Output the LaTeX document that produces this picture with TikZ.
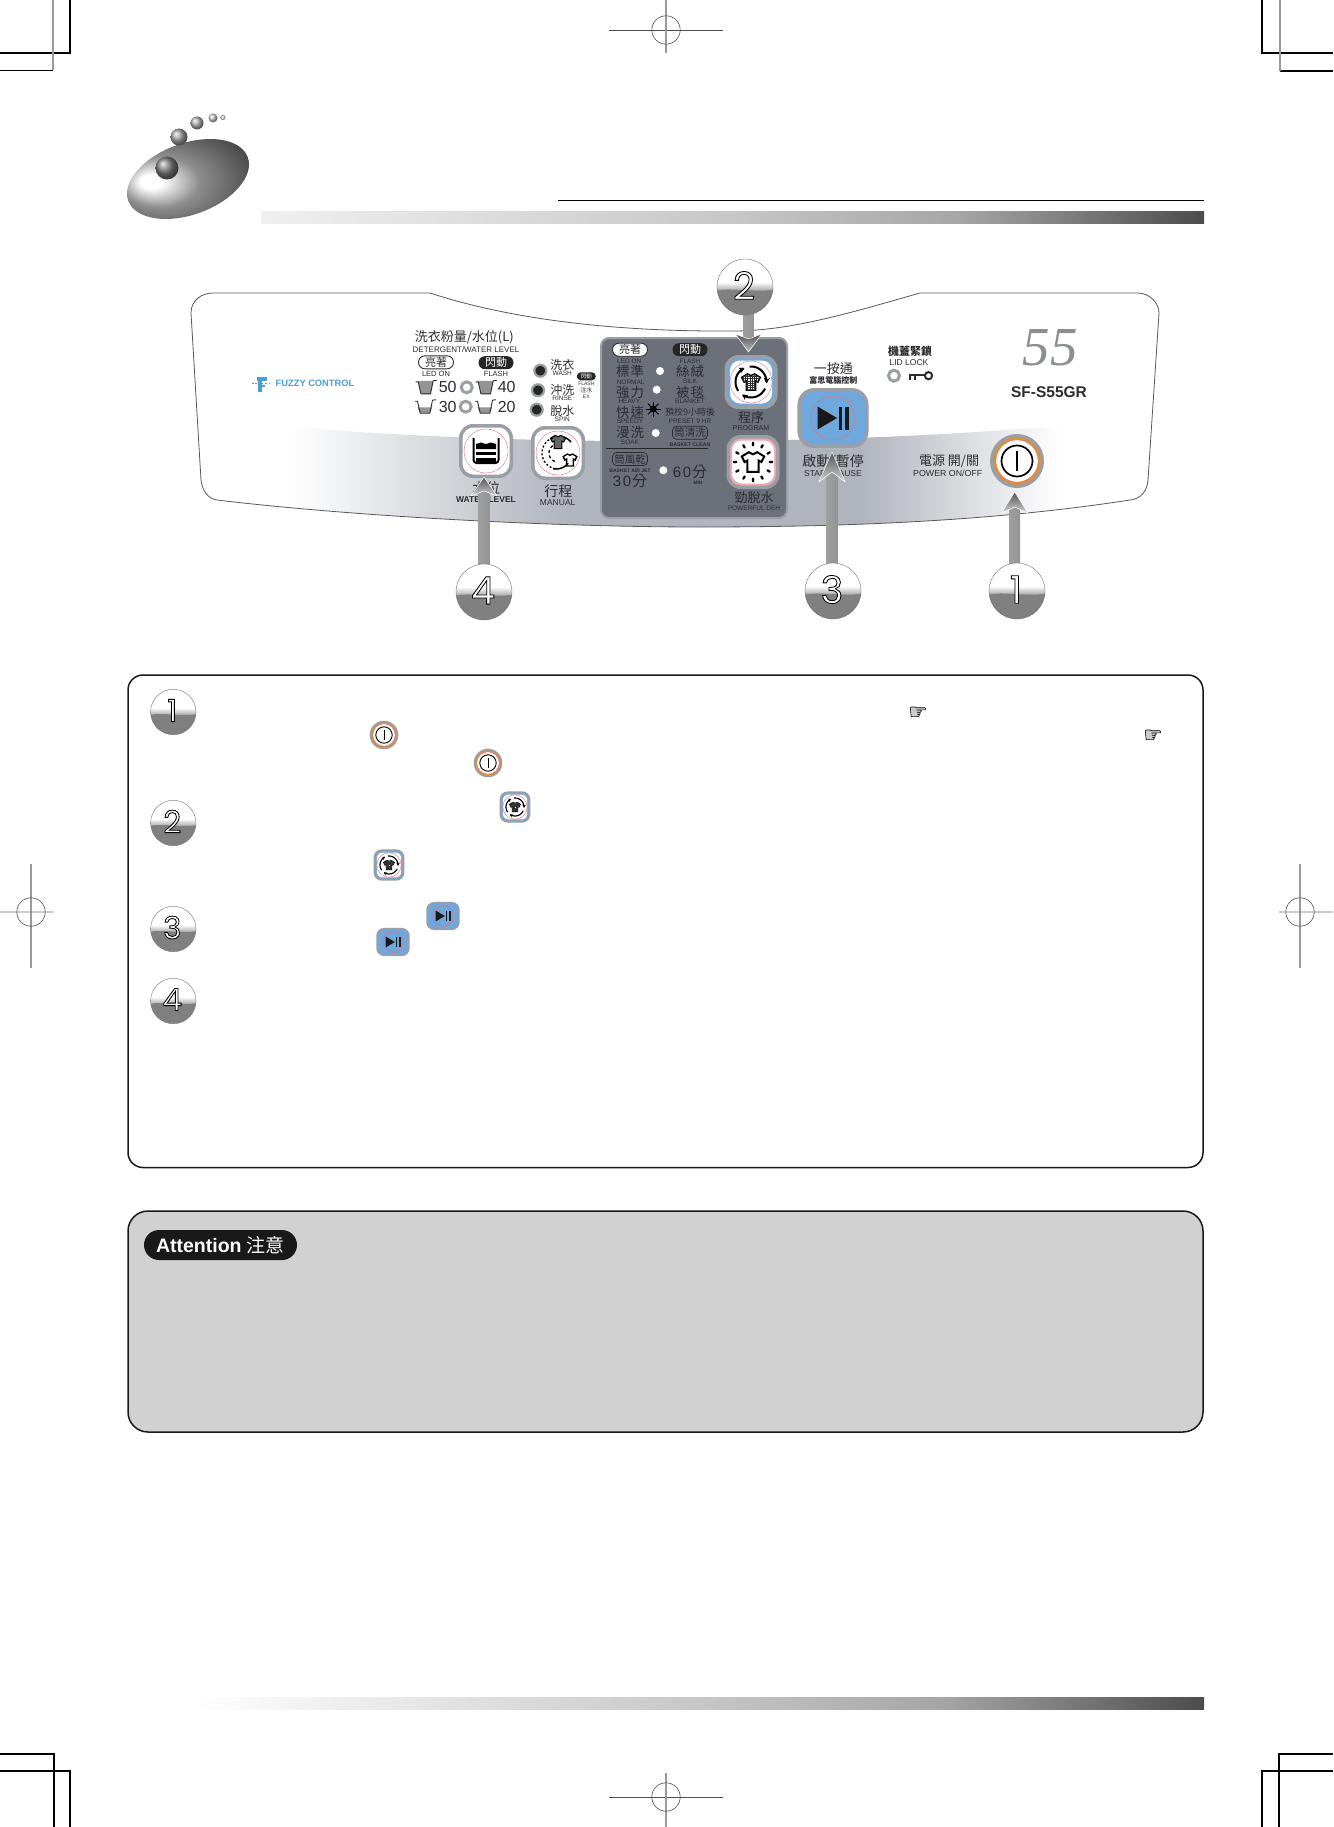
\documentclass[tikz,border=0pt]{standalone}
\usepackage{fontspec}
\usetikzlibrary{arrows.meta,calc,shadings}
\newfontfamily\cjkf{Noto Sans CJK TC}
\newfontfamily\lsf{Liberation Sans}
\newfontfamily\serf{Liberation Serif}
\newfontfamily\popf{Poppins}
\newfontfamily\djf{DejaVu Sans}
\definecolor{bandg}{HTML}{B0B4BC}
\definecolor{dispg}{HTML}{6C7079}
\definecolor{rimg}{HTML}{9A9EA6}
\definecolor{txtc}{HTML}{2C2C30}
\definecolor{btnblue}{HTML}{6FA8DC}
\definecolor{ringred}{HTML}{E8707A}
\definecolor{orng}{HTML}{D8923C}
\definecolor{fuzzy}{HTML}{4A9FD8}
\definecolor{pinkb}{HTML}{F0A8B0}
\pgfdeclarehorizontalshading{bandsh}{100bp}{color(0bp)=(white);color(25bp)=(white);color(43bp)=(bandg);color(62bp)=(bandg);color(75bp)=(white);color(100bp)=(white)}
\pgfdeclarehorizontalshading{barsh}{100bp}{color(0bp)=(black!6);color(25bp)=(black!6);color(50bp)=(black!22);color(62bp)=(black!35);color(75bp)=(black!70);color(100bp)=(black!70)}
\pgfdeclarehorizontalshading{barshb}{100bp}{color(0bp)=(white);color(25bp)=(white);color(50bp)=(black!22);color(62bp)=(black!35);color(75bp)=(black!70);color(100bp)=(black!70)}
\pgfdeclareradialshading{logosh}{\pgfpoint{-15bp}{0bp}}{color(0bp)=(white);color(4bp)=(white);color(15bp)=(black!45);color(28bp)=(black!65);color(42bp)=(black!85);color(52bp)=(black)}
\newcommand\panelpath{(191,313) .. controls (191,300) and (202,293) .. (213,293) -- (430,293) .. controls (500,316) and (600,332) .. (733,331) .. controls (790,331) and (850,313) .. (920,293) -- (1137,293) .. controls (1150,293) and (1159,303) .. (1159,313) -- (1148,480) .. controls (1147,492) and (1140,499) .. (1130,500) .. controls (1000,520) and (860,527) .. (700,527) .. controls (550,527) and (350,516) .. (217,500) .. controls (208,499) and (202,490) .. (201,480) -- cycle}
\newcommand\shirtpath{(-3,-7) -- (0,-5.5) -- (3,-7) -- (8,-4) -- (6,0) -- (4,-1) -- (4,7) -- (-4,7) -- (-4,-1) -- (-6,0) -- (-8,-4) -- cycle}
\newcommand\olnum[1]{\special{pdf:code 2 Tr 0.85 w 0 0 0 RG}#1\special{pdf:code 0 Tr}}
\newcommand\olhand[1]{\special{pdf:code 2 Tr 0.6 w 0 0 0 RG}#1\special{pdf:code 0 Tr}}
\newcommand\mkball[5]{%
  \pgfmathsetmacro\ballfs{#4*1.36}
  \node[circle,minimum size=#4*2pt,inner sep=0,fill=white] (#1) at (#2,#3) {};
  \begin{scope}
    \clip (#2,#3) circle (#4);
    \shade[top color=white,bottom color=black!35] (#2-#4,#3-#4*.18) rectangle (#2+#4,#3+#4*.14);
    \fill[black!50] (#2-#4,#3+#4*.12) .. controls (#2-#4*.5,#3+#4*.02) and (#2+#4*.4,#3+#4*.2) .. (#2+#4,#3+#4*.1) -- (#2+#4,#3+#4) -- (#2-#4,#3+#4) -- cycle;
  \end{scope}
  \draw[black!55,line width=.4pt] (#2,#3) circle (#4);
  \node[inner sep=0,text=white,font=\popf\fontsize{\ballfs}{\ballfs}\selectfont] (#1d) at (#2-1,#3-1.5) {\olnum{#5}};
}
\newcommand\mkpower[4]{%
  \begin{scope}[shift={(#2,#3)},scale=#4]
    \coordinate (#1) at (0,0);
    \fill[rimg] (0,0) circle (27);
    \fill[orng] (0,0) circle (23.8);
    \fill[white] (0,0) circle (21);
    \draw[ringred,line width=.5pt] (0,0) circle (21.2);
    \draw[black,line width={1.7pt*#4}] (0,0) circle (15.5);
    \draw[black,line width={1.7pt*#4}] (0,-10) -- (0,10);
  \end{scope}}
\newcommand\mkshirtbtn[4]{%
  \begin{scope}[shift={(#2,#3)},scale=#4]
    \coordinate (#1) at (0,0);
    \pgfmathsetmacro\alen{5.5*#4}
    \pgfmathsetmacro\awid{6*#4}
    \fill[rimg,rounded corners={14pt*#4}] (-26.5,-27) rectangle (26.5,27);
    \fill[btnblue,rounded corners={11pt*#4}] (-23,-23.5) rectangle (23,23.5);
    \fill[white,rounded corners={10pt*#4}] (-21,-21.5) rectangle (21,21.5);
    \draw[ringred,line width=.4pt] (0,0) circle (21);
    \foreach \ang in {25,145,265}{
      \draw[black,line width={2pt*#4},-{Stealth[length=\alen pt,width=\awid pt]},domain=\ang:\ang+100,samples=16,smooth,variable=\t] plot ({15.5*cos(\t)},{15.5*sin(\t)});
    }
    \begin{scope}[scale=1.15]
      \filldraw[fill=white,draw=black,line width={1.6pt*#4}] \shirtpath;
      \clip \shirtpath;
      \foreach \u in {-7,-5,...,7}{\draw[black!80,line width={.55pt*#4}] (\u,-8) -- (\u,8); \draw[black!80,line width={.55pt*#4}] (-8,\u) -- (8,\u);}
    \end{scope}
  \end{scope}}
\newcommand\mkstart[4]{%
  \begin{scope}[shift={(#2,#3)},scale=#4]
    \coordinate (#1) at (0,0);
    \filldraw[fill=btnblue,draw=rimg,line width={3.5pt*#4},rounded corners={15pt*#4}] (-33.8,-28.2) rectangle (33.8,28.2);
    \draw[ringred,line width=.5pt] (0,0) circle (22);
    \fill[black!90] (-15.5,-11.5) -- (4,0) -- (-15.5,11.5) -- cycle;
    \fill[black!90] (5.5,-11.5) rectangle (9,11.5);
    \fill[black!90] (12,-11.5) rectangle (16,11.5);
  \end{scope}}
\newcommand\mkbasin[3]{%
  \begin{scope}[shift={(#1,#2)}]
    \fill[black!42] (-7.6,{6.5-13*#3}) -- (7.3,{6.5-13*#3}) -- (4.8,6.5) -- (-4.8,6.5) -- cycle;
    \draw[txtc,line width=.9pt,line join=round] (-10,-5.5) -- (-7.5,-5.5) -- (-4.8,6.5) -- (4.8,6.5) -- (7.5,-6.5) -- (11,-7);
  \end{scope}}
\newcommand\mkupar[4]{% tip, ball, height, notch
  \shade[left color=black!38,middle color=black!70,right color=black!42] ($(#1)+(-5.4,#4-.5)$) rectangle ($(#1 |- #2.center)+(5.4,0)$);
  \shade[top color=black!68,bottom color=black!18,draw=white,line width=.5pt,line join=round] (#1) -- ($(#1)+(13.2,#3)$) -- ($(#1)+(0,#4)$) -- ($(#1)+(-13.2,#3)$) -- cycle;
}
\newcommand\mkcross[5]{%
  \draw[#5,line width=1.1pt] (#1,#3) -- (#1,#4);
  \draw[black!70,line width=.6pt] (#1,#2) circle (14.2);
}
\tikzset{
  cj/.style={inner sep=0,text=txtc,font=\cjkf\fontsize{#1}{#1}\selectfont},
  la/.style={inner sep=0,text=txtc,font=\lsf\fontsize{#1}{#1}\selectfont},
  crop/.style={black,line width=1.1pt},
  cropg/.style={black!40,line width=1.1pt},
  pillo/.style={rounded corners=6.4pt,draw=txtc,fill=white,line width=.9pt,minimum width=35pt,minimum height=13pt,inner sep=0,text=txtc,font=\cjkf\fontsize{11}{11}\selectfont},
  pillf/.style={rounded corners=6.4pt,fill=black!85,minimum width=35pt,minimum height=13pt,inner sep=0,text=white,font=\cjkf\fontsize{11}{11}\selectfont},
  boxo/.style={rounded corners=4pt,draw=txtc,line width=.7pt,minimum width=35pt,minimum height=13pt,inner sep=0,text=txtc,font=\cjkf\fontsize{10.5}{10.5}\selectfont},
  ledw/.style={circle,fill=white,minimum size=8pt,inner sep=0},
  ringg/.style={circle,draw=rimg,line width=3pt,minimum size=11pt,inner sep=0},
}
\begin{document}
\begin{tikzpicture}[x=1pt,y=-1pt,line cap=butt]
\useasboundingbox (0,0) rectangle (1333,1827);
\fill[white] (0,0) rectangle (1333,1827);
% crop marks
\draw[crop] (0,53) -- (70,53) -- (70,0);
\draw[crop] (0,70.5) -- (53,70.5);
\draw[cropg] (53,0) -- (53,70.5);
\draw[crop] (1333,53) -- (1262,53) -- (1262,0);
\draw[crop] (1333,71) -- (1280,71);
\draw[cropg] (1280,0) -- (1280,71);
\draw[crop] (0,1754) -- (54,1754) (54,1753) -- (54,1827);
\draw[crop] (0,1771) -- (70,1771) -- (70,1827);
\draw[crop] (1333,1754) -- (1279,1754) (1279,1753) -- (1279,1827);
\draw[crop] (1333,1771) -- (1262,1771) -- (1262,1827);
\draw[black!70,line width=.9pt] (609,30) -- (723,30);
\mkcross{666}{30}{0}{53}{black!40}
\draw[black!70,line width=.9pt] (609,1797) -- (723,1797);
\mkcross{666}{1797}{1773}{1827}{black!40}
\draw[black!20,line width=1.1pt] (0,912) -- (54,912);
\mkcross{31}{912}{864}{968}{black!40}
\draw[black!20,line width=1.1pt] (1279,912) -- (1333,912);
\mkcross{1300}{912}{864}{968}{black!40}
% logo
\begin{scope}[shift={(188,179)},rotate=20]
  \shade[shading=logosh] (0,0) ellipse (63.6 and 35.7);
\end{scope}
\shade[ball color=black!35] (179,137) circle (8.5);
\shade[ball color=black!50] (167,168) circle (11.5);
\shade[ball color=black!28] (197,123) circle (6.5);
\shade[ball color=black!20] (213,118) circle (4.5);
\shade[ball color=black!15] (223,117.5) circle (2.5);
% header rules
\draw[black,line width=.9pt] (558,200.5) -- (1204,200.5);
\shade[shading=barsh] (261,212) rectangle (1204,224);
\shade[shading=barshb] (192,1697) rectangle (1204,1709);
% control panel
\begin{scope}
  \clip \panelpath;
  \shade[shading=bandsh] (290,427) .. controls (400,436) and (520,441) .. (640,441) -- (720,441) .. controls (850,440) and (960,434) .. (1060,426) -- (1060,540) -- (290,540) -- cycle;
\end{scope}
\draw[black!65,line width=.8pt] \panelpath;
% display
\filldraw[fill=dispg,draw=rimg,line width=2pt,rounded corners=8pt] (601,338) rectangle (787,518);
% fuzzy logo
\fill[fuzzy] (257,377) rectangle (267,380.5);
\fill[fuzzy] (257.5,377) rectangle (261.5,392);
\fill[fuzzy] (257.5,384.5) rectangle (265,387);
\draw[fuzzy,line width=1pt,dash pattern=on 1.5pt off 1.8pt] (252,383.7) -- (271,383.7);
\node[la=9.3,text=fuzzy,font=\lsf\bfseries\fontsize{9.3}{9.3}\selectfont] (fuzzy) at (315,383.7) {FUZZY CONTROL};
% detergent block
\node[cj=13] (dettitle) at (464.3,337.7) {洗衣粉量/水位(L)};
\node[la=8] (detsub) at (466,349.3) {DETERGENT/WATER LEVEL};
\node[pillo] (ledpill) at (436,362.3) {亮著};
\node[pillf] (flashpill) at (496,362.7) {閃動};
\node[la=7.5] (ledon) at (436,374.3) {LED ON};
\node[la=7.5] (flash) at (496,374.3) {FLASH};
\mkbasin{425.7}{387.3}{1}
\mkbasin{485.7}{387.3}{1}
\mkbasin{425}{406.7}{.45}
\mkbasin{485}{406.7}{.45}
\node[la=16] (n50) at (447.7,387.3) {50};
\node[la=16] (n40) at (506.7,387.3) {40};
\node[la=16] (n30) at (447.7,406.7) {30};
\node[la=16] (n20) at (506.7,406.7) {20};
\node[ringg] (r1) at (466.7,387.3) {};
\node[ringg] (r2) at (465.7,406.7) {};
% wash LEDs
\node[circle,fill=black!85,draw=rimg,line width=2.2pt,minimum size=12pt,inner sep=0] (l1) at (540.3,370.7) {};
\node[circle,fill=black!85,draw=rimg,line width=2.2pt,minimum size=12pt,inner sep=0] (l2) at (538,390.3) {};
\node[circle,fill=black!85,draw=rimg,line width=2.2pt,minimum size=12pt,inner sep=0] (l3) at (536.7,409.7) {};
\node[cj=12] (wash) at (562.3,364.7) {洗衣};
\node[la=6.5] (washe) at (562.3,373) {WASH};
\node[cj=12] (rinse) at (562.3,390) {沖洗};
\node[la=6.5] (rinsee) at (562.3,398.3) {RINSE};
\node[cj=12] (spin) at (562.3,411) {脫水};
\node[la=6.5] (spine) at (562.3,419.7) {SPIN};
\node[fill=black!85,rounded corners=4pt,minimum width=19pt,minimum height=8pt,inner sep=0,text=white,font=\cjkf\fontsize{5.5}{5.5}\selectfont] (smallflash) at (586.3,376.3) {閃動};
\node[la=5] (smf) at (586.3,383.7) {FLASH};
\node[cj=6] (smw) at (586.3,390.7) {注水};
\node[la=5] (smx) at (586.3,397) {EX};
% water and manual buttons
\fill[rimg,rounded corners=14pt] (459,424) rectangle (513,478);
\fill[white,rounded corners=11pt] (462.5,427.5) rectangle (509.5,474.5);
\coordinate (wbtn) at (486,451);
\draw[ringred,line width=.4pt] (wbtn) circle (22);
\draw[black,line width=2pt,rounded corners=3pt] (473.5,438) -- (473.5,463) -- (498.5,463) -- (498.5,438);
\fill[black] (476,444) -- (481,442.5) -- (486,444) -- (491,442.5) -- (496,444) -- (496,449) -- (476,449) -- cycle;
\fill[black] (476,451.5) rectangle (496,455);
\fill[black] (476,457.5) rectangle (496,462);
\fill[rimg,rounded corners=14pt] (531,426) rectangle (585,480);
\fill[white,rounded corners=11pt] (534.5,429.5) rectangle (581.5,476.5);
\coordinate (mbtn) at (558,453);
\draw[ringred,line width=.4pt] (mbtn) circle (22);
\begin{scope}[shift={(558,442)},scale=.95]
  \filldraw[fill=black!60,draw=black,line width=1pt] \shirtpath;
\end{scope}
\begin{scope}[shift={(570,460)},scale=.85]
  \filldraw[fill=white,draw=black,line width=1.4pt] \shirtpath;
\end{scope}
\draw[black,line width=1.3pt,dash pattern=on 2pt off 2pt,domain=100:260,samples=16,smooth,variable=\t] plot ({558+16*cos(\t)},{453+16*sin(\t)});
\draw[black,line width=1.3pt,dash pattern=on 3pt off 2.5pt,domain=110:240,samples=16,smooth,variable=\t] plot ({558+9*cos(\t)},{453+9*sin(\t)});
\draw[black,line width=1.5pt,domain=40:100,samples=10,smooth,variable=\t] plot ({556+16*cos(\t)},{453+16*sin(\t)});
\draw[black,line width=1.5pt,domain=-70:-40,samples=10,smooth,variable=\t] plot ({558+17*cos(\t)},{453+17*sin(\t)});
\node[cj=14] (lvl) at (486,488.3) {水位};
\node[la=8.5,font=\lsf\bfseries\fontsize{8.5}{8.5}\selectfont] (lvle) at (486,500) {WATER LEVEL};
\node[cj=14] (man) at (558.3,490.7) {行程};
\node[la=8.5] (mane) at (557.7,502.7) {MANUAL};
% display labels
\node[pillo] (dled) at (630,349.7) {亮著};
\node[pillf] (dfl) at (690,349.7) {閃動};
\node[la=6.5] (dlede) at (629.3,361.7) {LED ON};
\node[la=6.5] (dfle) at (690,361.7) {FLASH};
\node[cj=13.5] (d1) at (630,371.7) {標\hspace{1pt}準};
\node[la=6.5] (d1e) at (630.7,382) {NORMAL};
\node[cj=13.5] (d2) at (630,392) {強\hspace{1pt}力};
\node[la=6.5] (d2e) at (629.3,401.7) {HEAVY};
\node[cj=13.5] (d3) at (630,412.3) {快\hspace{1pt}速};
\node[la=6.5] (d3e) at (630,421.7) {SPEEDY};
\node[cj=13.5] (d4) at (630,432.7) {漫\hspace{1pt}洗};
\node[la=6.5] (d4e) at (630,442.7) {SOAK};
\node[cj=13.5] (d5) at (690,371.7) {絲\hspace{1pt}絨};
\node[la=6.5] (d5e) at (690,381.7) {SILK};
\node[cj=13.5] (d6) at (690,392) {被\hspace{1pt}毯};
\node[la=6.5] (d6e) at (690,401.7) {BLANKET};
\node[cj=9] (d7) at (690,412.3) {預校9小時後};
\node[la=6.5] (d7e) at (690,421) {PRESET 9 HR};
\node[boxo] (d8) at (690,432.7) {筒清洗};
\node[la=5.2,font=\lsf\bfseries\fontsize{5.2}{5.2}\selectfont] (d8e) at (690,444.3) {BASKET CLEAN};
\draw[black!85,line width=1.3pt] (606,448.7) -- (708,448.7);
\node[boxo] (d9) at (630,459) {筒風乾};
\node[la=5,font=\lsf\bfseries\fontsize{5}{5}\selectfont] (d9e) at (630,470.7) {BASKET AIR JET};
\node[la=15] (d10) at (630,481) {3\hspace{1.5pt}0\hspace{1pt}{\cjkf 分}};
\node[la=15] (d11) at (690,472.3) {6\hspace{1.5pt}0\hspace{1pt}{\cjkf 分}};
\node[la=4.8,font=\lsf\bfseries\fontsize{4.8}{4.8}\selectfont] (d11e) at (698,482.7) {MIN};
\node[ledw] (w1) at (660,371) {};
\node[ledw] (w2) at (656.7,389.7) {};
\node[ledw] (w3) at (655.7,433) {};
\node[ledw] (w4) at (663.3,470.3) {};
\coordinate (sun) at (653.3,409);
\fill[black] (sun) circle (3.5);
\foreach \a in {0,45,...,315}{\draw[black,line width=.9pt] ($(sun)+(\a:3)$) -- ($(sun)+(\a:7.5)$);}
% main buttons
\mkshirtbtn{prog}{751}{382}{1}
\fill[rimg,rounded corners=14pt] (726.5,435) rectangle (779.5,489);
\fill[pinkb,rounded corners=11pt] (730,438.5) rectangle (776,485.5);
\fill[white,rounded corners=10pt] (732,440.5) rectangle (774,483.5);
\coordinate (deh) at (753,462);
\foreach \a in {0,30,...,330}{\fill[black,shift={(deh)},rotate=\a,shift={(18,0)}] (0,0) ellipse (2.4 and 1.3);}
\begin{scope}[shift={(753,462)},scale=1.4]
  \filldraw[fill=white,draw=black,line width=2pt,line join=miter] \shirtpath;
\end{scope}
\node[cj=13] (prgc) at (751,418) {程序};
\node[la=7] (prge) at (751,428.3) {PROGRAM};
\node[cj=13] (dehc) at (754,497.7) {勁脫水};
\node[la=6.5] (dehe) at (754,508.3) {POWERFUL DEH};
\mkstart{stbtn}{833}{418}{1}
\node[cj=13] (one) at (833.3,368.3) {一按通};
\node[cj=8,font=\cjkf\bfseries\fontsize{8}{8}\selectfont] (oneb) at (833.3,380.7) {富思電腦控制};
\node[cj=14] (stc) at (833,461.7) {啟動/暫停};
\node[la=8.5] (ste) at (833,473.3) {START/PAUSE};
\node[cj=11,font=\cjkf\bfseries\fontsize{11}{11}\selectfont] (lidc) at (910,351.7) {機蓋緊鎖};
\node[la=8.5] (lide) at (909,362.3) {LID LOCK};
\node[ringg] (lidr) at (894,375.7) {};
\coordinate (keyc) at (928.5,375.7);
\draw[txtc,line width=2pt] (keyc) circle (3.6);
\draw[txtc,line width=2pt] (908.5,374.5) -- (925,374.5);
\fill[txtc] (909,374) rectangle (911,379.5);
\fill[txtc] (914,374) rectangle (916,379.5);
\node[inner sep=0,text=rimg!90!black,font=\serf\itshape\fontsize{55}{55}\selectfont] (mod) at (1050,348) {55};
\node[la=15.5,font=\lsf\bfseries\fontsize{15.5}{15.5}\selectfont] (modn) at (1049,391.7) {SF-S55GR};
\node[cj=13] (pwc) at (949,461) {電源 開/關};
\node[la=8.8] (pwe) at (947.7,473) {POWER ON/OFF};
\mkpower{pwbtn}{1017}{461}{1}
% number balls and arrows
\coordinate (tip4) at (484,477);
\coordinate (tip3) at (832,452);
\coordinate (tip1) at (1014.7,492);
\node[inner sep=0,minimum size=1pt] (ball4a) at (484,592) {};
\node[inner sep=0,minimum size=1pt] (ball3a) at (833,591) {};
\node[inner sep=0,minimum size=1pt] (ball1a) at (1017,591) {};
\mkupar{tip4}{ball4a}{19}{14}
\mkupar{tip3}{ball3a}{30}{20}
\mkupar{tip1}{ball1a}{21}{15}
\coordinate (tip2) at (748.5,352);
\node[inner sep=0,minimum size=1pt] (ball2a) at (745,287) {};
\shade[left color=black!38,middle color=black!70,right color=black!42] ($(tip2)+(-5.4,-12)$) rectangle ($(tip2 |- ball2a.center)+(5.4,0)$);
\shade[top color=black!68,bottom color=black!25,draw=white,line width=.5pt,line join=round] (tip2) -- ($(tip2)+(13.2,-18)$) -- ($(tip2)+(0,-13)$) -- ($(tip2)+(-13.2,-18)$) -- cycle;
\mkball{ball4}{484}{592}{28}{4}
\mkball{ball3}{833}{591}{28}{3}
\mkball{ball1}{1017}{591}{28}{1}
\mkball{ball2}{745}{287}{28}{2}
% instruction box
\draw[black!90,line width=1.5pt,fill=white,rounded corners=15pt] (128,675) rectangle (1203,1167.5);
\mkball{b1}{173.3}{712}{22.7}{1}
\mkball{b2}{173.3}{823}{22.7}{2}
\mkball{b3}{173.3}{929}{22.7}{3}
\mkball{b4}{173.3}{1001}{22.7}{4}
\mkpower{ip1}{384}{735}{.53}
\mkpower{ip2}{488}{763}{.53}
\mkshirtbtn{ipr1}{515}{807}{.58}
\mkshirtbtn{ipr2}{389}{865}{.58}
\mkstart{ist1}{443}{916}{.47}
\mkstart{ist2}{393}{942}{.47}
\node[inner sep=0,text=black!20,font=\djf\fontsize{21}{21}\selectfont] (hand1) at (918,713) {\olhand{☛}};
\node[inner sep=0,text=black!20,font=\djf\fontsize{21}{21}\selectfont] (hand2) at (1153,736) {\olhand{☛}};
% attention box
\draw[black!90,line width=1.5pt,fill=black!18,rounded corners=20pt] (128,1211) rectangle (1203,1432);
\fill[black!90,rounded corners=15pt] (144,1230) rectangle (297,1260);
\node[inner sep=0,text=white,font=\lsf\bfseries\fontsize{19.5}{19.5}\selectfont] (att) at (220.5,1245) {Attention {\cjkf\mdseries\fontsize{19}{19}\selectfont 注意}};
\end{tikzpicture}
\end{document}
